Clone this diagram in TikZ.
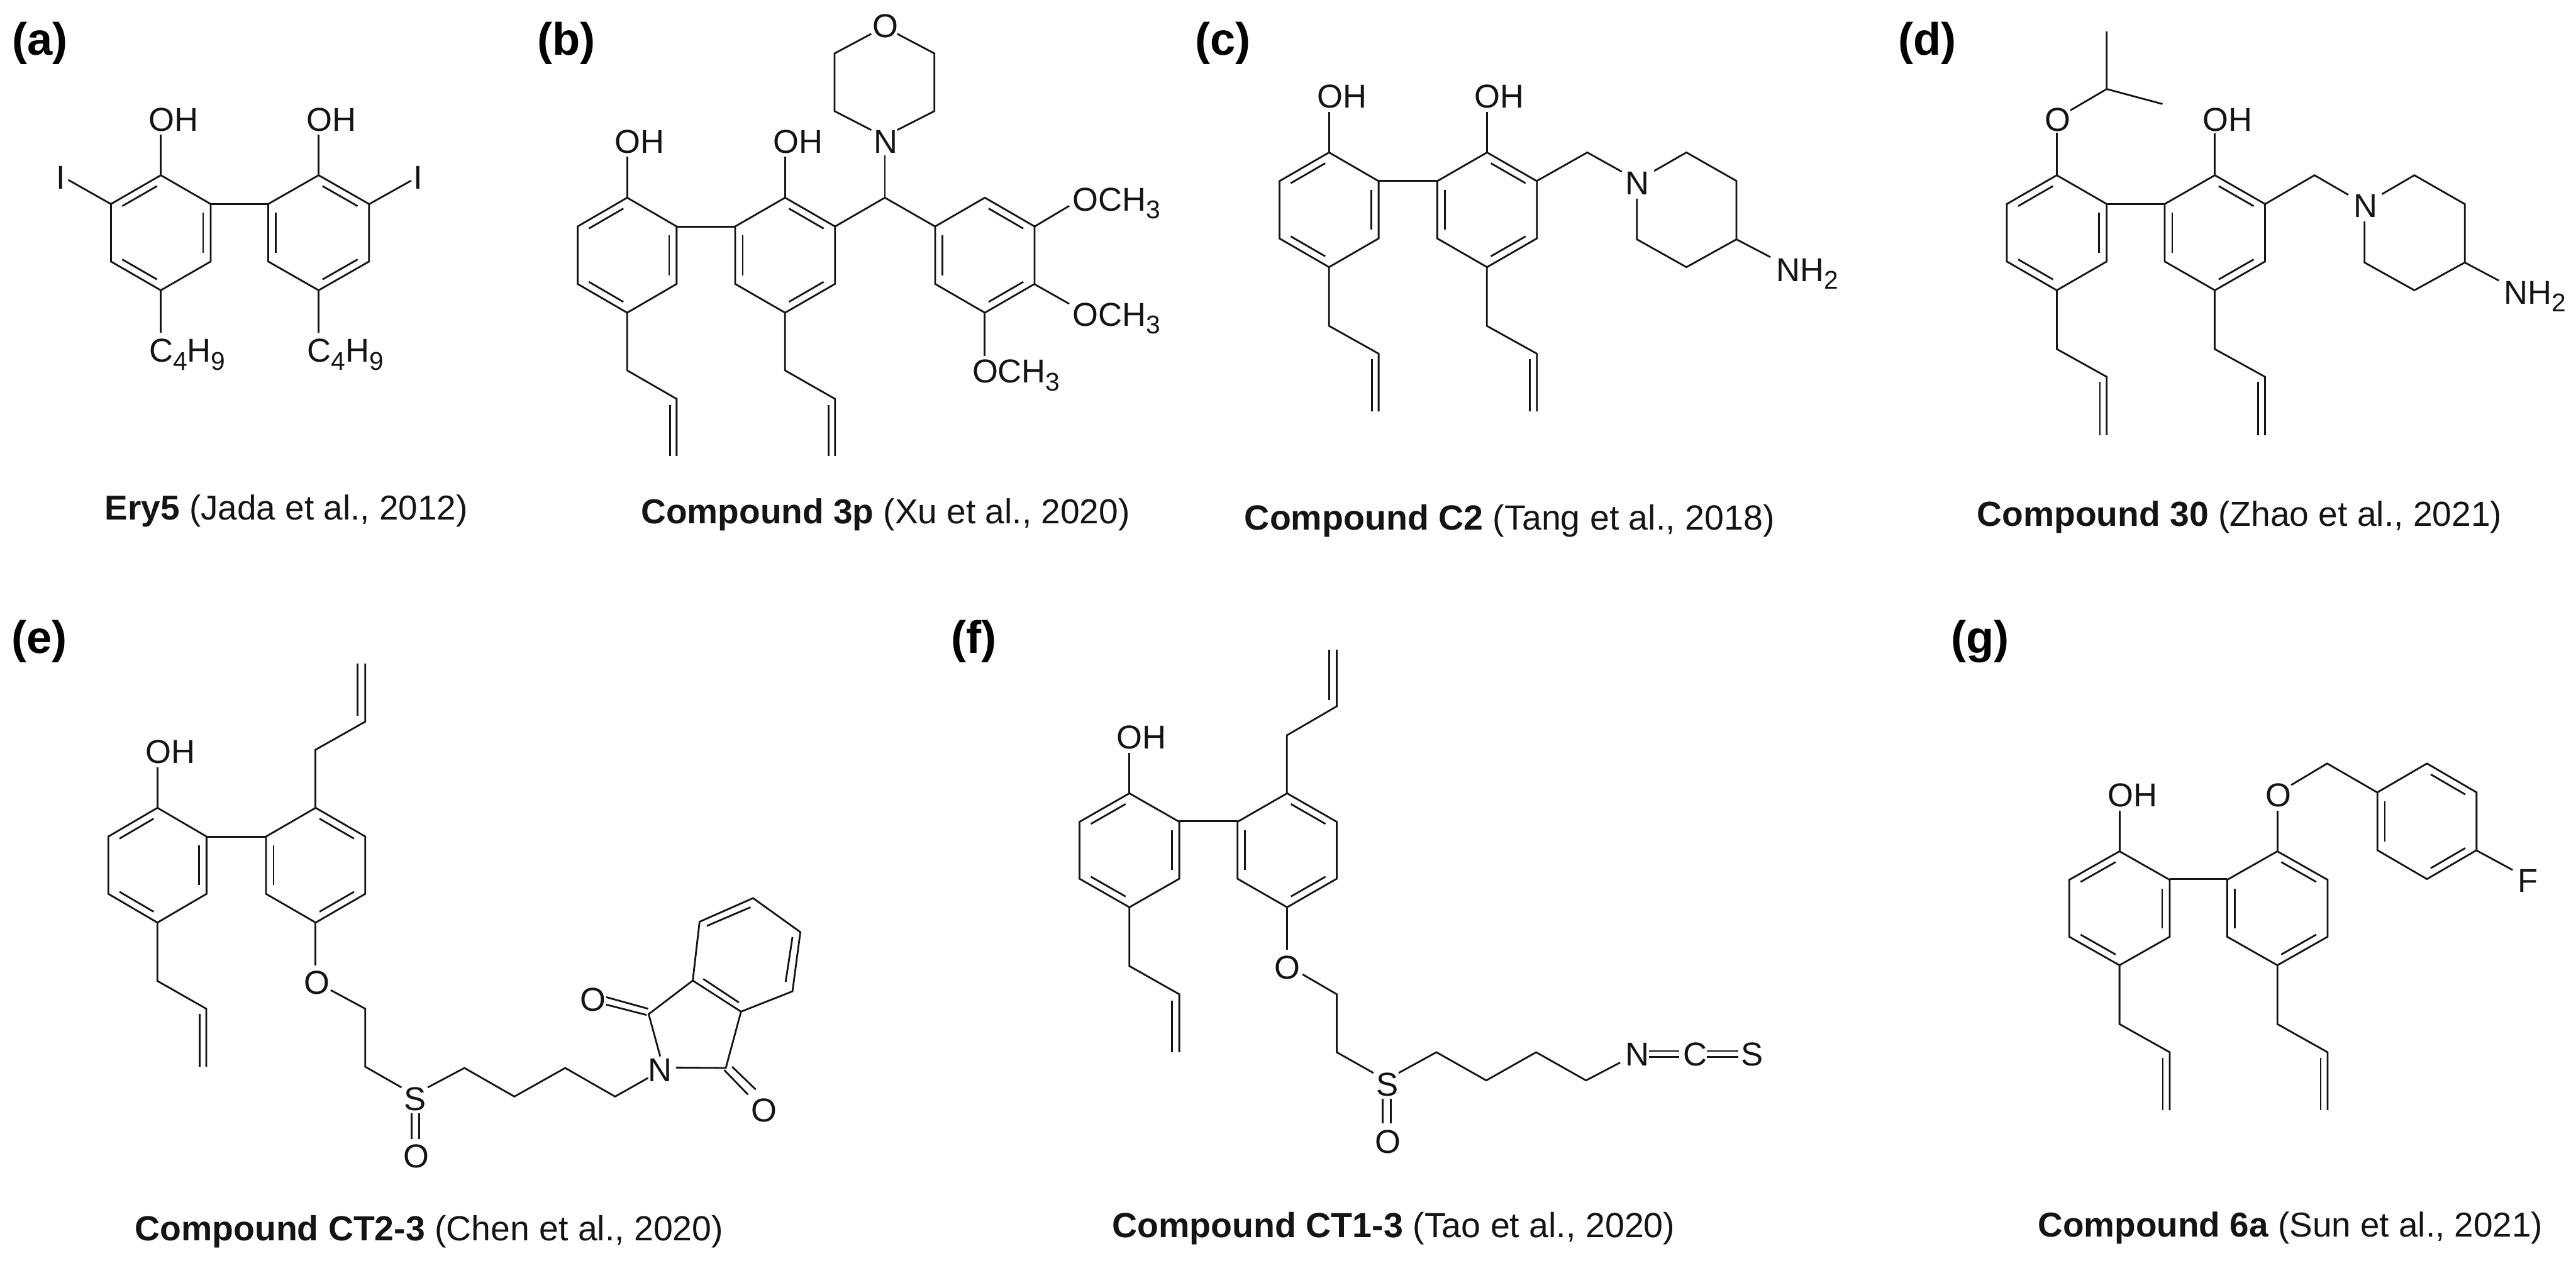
\documentclass[tikz,border=0pt]{standalone}
\usepackage{fontspec}
\setmainfont{Liberation Sans}
\newcommand{\atomfont}{\fontsize{16}{18}\selectfont}
\newcommand{\lowered}[1]{\raisebox{-0.24em}{\fontsize{12.4}{14}\selectfont #1}}
\tikzset{
  bondline/.style={draw=black!92,line width=0.3mm,line join=miter},
  atomlabel/.style={inner sep=0pt,outer sep=0pt,anchor=base west,text=black!92,font=\atomfont},
  captionlabel/.style={inner sep=0pt,outer sep=0pt,anchor=base west,text=black!92,font=\fontsize{#1}{20}\selectfont},
  panellabel/.style={inner sep=0pt,outer sep=0pt,anchor=base west,text=black,font=\fontsize{22}{26}\selectfont\bfseries},
  zoomframe/.style n args={4}{shift={(#1*0.01cm,-#2*0.01cm)},x=0.01cm,y=-0.01cm,xscale=#3/1568,yscale=#4/1568}
}
% benzene ring: centre x, centre y, half width, half height, list of double-bond edges
\newcommand{\hexring}[5]{%
  \draw[bondline] (#1,#2-#4) -- (#1+#3,#2-0.5*#4) -- (#1+#3,#2+0.5*#4) -- (#1,#2+#4) -- (#1-#3,#2+0.5*#4) -- (#1-#3,#2-0.5*#4) -- cycle;
  \foreach \k in {#5}{%
    \pgfmathsetmacro\angA{90-60*(\k-1)}%
    \pgfmathsetmacro\angB{\angA-60}%
    \pgfmathsetmacro\hxA{#1+0.85*#3/0.866025*cos(\angA)}%
    \pgfmathsetmacro\hyA{#2-0.85*#4*sin(\angA)}%
    \pgfmathsetmacro\hxB{#1+0.85*#3/0.866025*cos(\angB)}%
    \pgfmathsetmacro\hyB{#2-0.85*#4*sin(\angB)}%
    \pgfmathsetmacro\hxS{\hxA+0.09*(\hxB-\hxA)}%
    \pgfmathsetmacro\hyS{\hyA+0.09*(\hyB-\hyA)}%
    \pgfmathsetmacro\hxE{\hxA+0.91*(\hxB-\hxA)}%
    \pgfmathsetmacro\hyE{\hyA+0.91*(\hyB-\hyA)}%
    \draw[bondline] (\hxS,\hyS) -- (\hxE,\hyE);
  }%
}
\newcommand{\atomlbl}[4]{\node[atomlabel] (#1) at (#2,#3) {#4};}
\begin{document}
\begin{tikzpicture}
\fill[white] (0,0) rectangle (43.8,-21.55);
\useasboundingbox (0,0) rectangle (43.8,-21.55);

% ---------- (a)
\begin{scope}[zoomframe={0}{0}{1000}{950}]
\node[panellabel] (pa) at (33,155) {(a)};
\hexring{429}{653.5}{133}{161.5}{6,2,4}
\hexring{850}{653.5}{134.5}{161.5}{1,5,3}
\draw[bondline] (562,573) -- (716,573);
\draw[bondline] (429,492) -- (429,378);
\draw[bondline] (850,492) -- (850,378);
\draw[bondline] (296,573) -- (182,505);
\draw[bondline] (985,573) -- (1097,507);
\draw[bondline] (429,815) -- (429,935);
\draw[bondline] (850,815) -- (850,935);
\atomlbl{aoh1}{397}{368}{OH}
\atomlbl{aoh2}{818}{368}{OH}
\atomlbl{ai1}{150}{530}{I}
\atomlbl{ai2}{1103}{530}{I}
\atomlbl{ab1}{398}{1017}{C\lowered{4}H\lowered{9}}
\atomlbl{ab2}{820}{1017}{C\lowered{4}H\lowered{9}}
\node[captionlabel=16.7] (ca) at (280,1460) {\textbf{Ery5} (Jada et al., 2012)};
\end{scope}

% ---------- (b)
\begin{scope}[zoomframe={900}{0}{1100}{950}]
\node[panellabel] (pb) at (20,155) {(b)};
\hexring{238}{716.5}{120}{161.5}{6,2,4}
\hexring{621}{716.5}{121}{161.5}{1,5,3}
\hexring{1105.5}{716.5}{120.5}{161.5}{1,5,3}
\draw[bondline] (358,636) -- (500,636);
\draw[bondline] (238,555) -- (238,440);
\draw[bondline] (621,555) -- (621,440);
\draw[bondline] (238,878) -- (238,1040) -- (358,1120) -- (358,1280);
\draw[bondline] (342,1137) -- (342,1280);
\draw[bondline] (621,878) -- (621,1040) -- (742,1120) -- (742,1280);
\draw[bondline] (726,1137) -- (726,1280);
\draw[bondline] (742,636) -- (863,555) -- (985,636);
\draw[bondline] (863,555) -- (863,437);
\draw[bondline] (830,365) -- (741,312) -- (741,150) -- (830,95);
\draw[bondline] (893,95) -- (983,150) -- (983,312) -- (893,365);
\draw[bondline] (1226,636) -- (1310,578);
\draw[bondline] (1226,798) -- (1310,853);
\draw[bondline] (1105,878) -- (1105,1000);
\atomlbl{boh1}{208}{430}{OH}
\atomlbl{boh2}{592}{430}{OH}
\atomlbl{bn}{836}{430}{N}
\atomlbl{bo}{833}{105}{O}
\atomlbl{bme1}{1318}{592}{OCH\lowered{3}}
\atomlbl{bme2}{1318}{915}{OCH\lowered{3}}
\atomlbl{bme3}{1075}{1075}{OCH\lowered{3}}
\node[captionlabel=16.75] (cb) at (272,1470) {\textbf{Compound 3p} (Xu et al., 2020)};
\end{scope}

% ---------- (c)
\begin{scope}[zoomframe={2000}{0}{1150}{950}]
\node[panellabel] (pc) at (45,155) {(c)};
\hexring{356}{589}{115}{161}{6,2,4}
\hexring{722.5}{589}{115.5}{161}{1,5,3}
\draw[bondline] (471,508) -- (607,508);
\draw[bondline] (356,428) -- (356,315);
\draw[bondline] (722,428) -- (722,315);
\draw[bondline] (356,750) -- (356,915) -- (471,993) -- (471,1155);
\draw[bondline] (455,1008) -- (455,1155);
\draw[bondline] (722,750) -- (722,915) -- (838,993) -- (838,1155);
\draw[bondline] (822,1008) -- (822,1155);
\draw[bondline] (838,508) -- (955,428) -- (1035,482);
\draw[bondline] (1110,480) -- (1185,428) -- (1301,508) -- (1301,672) -- (1185,750) -- (1070,672) -- (1070,558);
\draw[bondline] (1301,672) -- (1380,722);
\atomlbl{coh1}{328}{303}{OH}
\atomlbl{coh2}{694}{303}{OH}
\atomlbl{cn}{1044}{547}{N}
\atomlbl{cnh}{1393}{790}{NH\lowered{2}}
\node[captionlabel=16.9] (cc) at (160,1487) {\textbf{Compound C2} (Tang et al., 2018)};
\end{scope}

% ---------- (d)
\begin{scope}[zoomframe={3180}{0}{1200}{950}]
\node[panellabel] (pd) at (65,155) {(d)};
\hexring{417}{653.5}{111}{161.5}{6,2,4}
\hexring{768.5}{653.5}{111.5}{161.5}{1,5,3}
\draw[bondline] (528,573) -- (657,573);
\draw[bondline] (417,492) -- (417,372);
\draw[bondline] (447,310) -- (528,250) -- (528,88);
\draw[bondline] (528,250) -- (652,292);
\draw[bondline] (768,492) -- (768,375);
\draw[bondline] (417,815) -- (417,980) -- (528,1058) -- (528,1222);
\draw[bondline] (513,1072) -- (513,1222);
\draw[bondline] (768,815) -- (768,980) -- (880,1058) -- (880,1222);
\draw[bondline] (864,1072) -- (864,1222);
\draw[bondline] (880,573) -- (990,492) -- (1065,547);
\draw[bondline] (1140,545) -- (1212,492) -- (1324,573) -- (1324,737) -- (1212,815) -- (1101,737) -- (1101,622);
\draw[bondline] (1324,737) -- (1400,788);
\atomlbl{do}{390}{368}{O}
\atomlbl{doh}{741}{368}{OH}
\atomlbl{dn}{1077}{610}{N}
\atomlbl{dnh}{1411}{853}{NH\lowered{2}}
\node[captionlabel=16.8] (cd) at (240,1477) {\textbf{Compound 30} (Zhao et al., 2021)};
\end{scope}

% ---------- (e)
\begin{scope}[zoomframe={0}{1050}{1400}{1105}]
\node[panellabel] (pe) at (22,87) {(e)};
\hexring{300}{598.5}{93.5}{138.5}{6,2,4}
\hexring{601.5}{598.5}{94.5}{138.5}{1,5,3}
\draw[bondline] (393,530) -- (507,530);
\draw[bondline] (300,460) -- (300,362);
\draw[bondline] (601,460) -- (601,320) -- (696,252) -- (696,112);
\draw[bondline] (681,238) -- (681,112);
\draw[bondline] (300,737) -- (300,878) -- (393,945) -- (393,1085);
\draw[bondline] (380,958) -- (380,1085);
\draw[bondline] (601,737) -- (601,840);
\draw[bondline] (630,900) -- (696,945) -- (696,1085) -- (765,1135);
\draw[bondline] (815,1135) -- (885,1088) -- (980,1157) -- (1077,1088) -- (1172,1157) -- (1235,1112);
\draw[bondline] (784,1197) -- (784,1260);
\draw[bondline] (799,1197) -- (799,1260);
\draw[bondline] (1288,1087) -- (1383,1088) -- (1412,952) -- (1320,877) -- (1236,958) -- (1258,1060);
\draw[bondline] (1320,877) -- (1333,735) -- (1435,678) -- (1525,760) -- (1510,903) -- (1412,952);
\draw[bondline] (1347,745) -- (1430,700);
\draw[bondline] (1510,772) -- (1497,880);
\draw[bondline] (1340,873) -- (1408,930);
\draw[bondline] (1155,917) -- (1235,945);
\draw[bondline] (1155,935) -- (1232,960);
\draw[bondline] (1395,1085) -- (1440,1140);
\draw[bondline] (1380,1093) -- (1425,1152);
\atomlbl{eoh}{277}{353}{OH}
\atomlbl{eo1}{579}{910}{O}
\atomlbl{es}{770}{1190}{S}
\atomlbl{eo2}{769}{1328}{O}
\atomlbl{en}{1235}{1120}{N}
\atomlbl{eo3}{1105}{950}{O}
\atomlbl{eo4}{1432}{1218}{O}
\node[captionlabel=16.85] (ce) at (257,1505) {\textbf{Compound CT2-3} (Chen et al., 2020)};
\end{scope}

% ---------- (f)
\begin{scope}[zoomframe={1600}{1050}{1400}{1105}]
\node[panellabel] (pf) at (20,87) {(f)};
\hexring{360}{562.5}{95}{137.5}{6,2,4}
\hexring{660.5}{562.5}{94.5}{137.5}{1,5,3}
\draw[bondline] (455,492) -- (566,492);
\draw[bondline] (360,425) -- (360,327);
\draw[bondline] (660,425) -- (660,285) -- (755,215) -- (755,78);
\draw[bondline] (741,200) -- (741,78);
\draw[bondline] (360,700) -- (360,842) -- (455,910) -- (455,1050);
\draw[bondline] (441,925) -- (441,1050);
\draw[bondline] (660,700) -- (660,803);
\draw[bondline] (690,862) -- (755,910) -- (755,1050) -- (825,1100);
\draw[bondline] (873,1100) -- (945,1050) -- (1040,1118) -- (1135,1050) -- (1230,1118) -- (1295,1075);
\draw[bondline] (843,1162) -- (843,1222);
\draw[bondline] (858,1162) -- (858,1222);
\draw[bondline] (1350,1047) -- (1408,1047);
\draw[bondline] (1350,1062) -- (1408,1062);
\draw[bondline] (1460,1047) -- (1520,1047);
\draw[bondline] (1460,1062) -- (1520,1062);
\atomlbl{foh}{336}{317}{OH}
\atomlbl{fo1}{637}{873}{O}
\atomlbl{fs}{830}{1155}{S}
\atomlbl{fo2}{828}{1293}{O}
\atomlbl{fn}{1305}{1083}{N}
\atomlbl{fc}{1415}{1083}{C}
\atomlbl{fs2}{1525}{1083}{S}
\node[captionlabel=16.9] (cf) at (327,1497) {\textbf{Compound CT1-3} (Tao et al., 2020)};
\end{scope}

% ---------- (g)
\begin{scope}[zoomframe={3300}{1050}{1080}{1105}]
\node[panellabel] (pg) at (28,87) {(g)};
\hexring{444}{702.5}{124}{137.5}{6,2,4}
\hexring{834}{702.5}{124}{137.5}{1,5,3}
\hexring{1203.5}{492.5}{122.5}{139.5}{1,5,3}
\draw[bondline] (568,632) -- (710,632);
\draw[bondline] (444,565) -- (444,467);
\draw[bondline] (834,565) -- (834,467);
\draw[bondline] (868,405) -- (957,353) -- (1081,423);
\draw[bondline] (1326,563) -- (1415,610);
\draw[bondline] (444,840) -- (444,982) -- (568,1050) -- (568,1190);
\draw[bondline] (551,1063) -- (551,1190);
\draw[bondline] (834,840) -- (834,982) -- (958,1050) -- (958,1190);
\draw[bondline] (941,1063) -- (941,1190);
\atomlbl{goh}{415}{457}{OH}
\atomlbl{go}{805}{457}{O}
\atomlbl{gf}{1428}{663}{F}
\node[captionlabel=16.7] (cg) at (243,1495) {\textbf{Compound 6a} (Sun et al., 2021)};
\end{scope}
\end{tikzpicture}
\end{document}
